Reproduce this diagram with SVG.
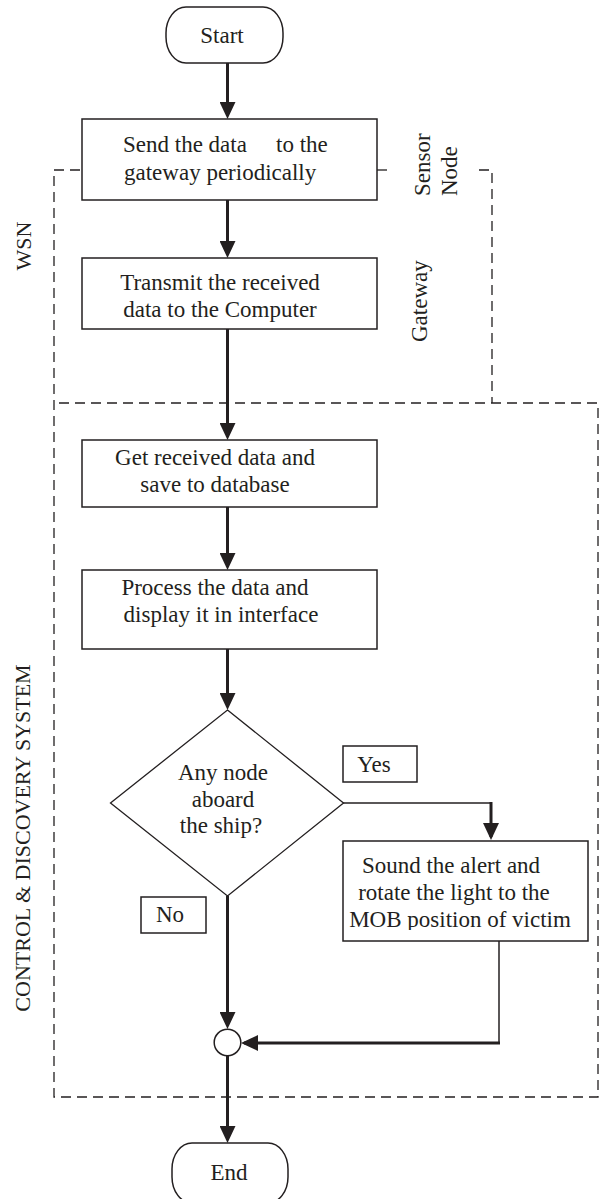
<svg xmlns="http://www.w3.org/2000/svg" width="600" height="1199" viewBox="0 0 600 1199">
<style>
.t{font-family:"Liberation Serif","Times New Roman",serif;font-size:23px;fill:#231f20}
.m{text-anchor:middle}
.lbl{font-family:"Liberation Serif","Times New Roman",serif;font-size:22px;fill:#231f20}
.box{fill:#fff;stroke:#231f20;stroke-width:1.5}
.dash{fill:none;stroke:#231f20;stroke-width:1.3;stroke-dasharray:10 6}
.c{fill:none;stroke:#231f20;stroke-width:3}
.thin{fill:none;stroke:#231f20;stroke-width:1.5}
</style>
<defs>
<marker id="ah" markerUnits="userSpaceOnUse" markerWidth="17" markerHeight="16" refX="14" refY="8" orient="auto">
<path d="M0,0 L17,8 L0,16 z" fill="#231f20"/>
</marker>
<clipPath id="clip5"><rect x="343" y="841" width="245" height="89"/></clipPath>
</defs>
<rect width="600" height="1199" fill="#fff"/>
<g id="regions">
<path class="dash" d="M80,170 H54 V1097 H598 V403 H54"/>
<path class="dash" d="M377,170 H388"/>
<path class="dash" d="M479,170 H492 V403"/>
<text class="lbl" transform="translate(31,246) rotate(-90)" text-anchor="middle">WSN</text>
<text class="lbl" transform="translate(29.5,838) rotate(-90)" text-anchor="middle">CONTROL &amp; DISCOVERY SYSTEM</text>
<text class="t" transform="translate(430,196) rotate(-90)">Sensor</text>
<text class="t" transform="translate(457,196) rotate(-90)">Node</text>
<text class="t" transform="translate(427,342) rotate(-90)">Gateway</text>
</g>
<g id="connectors">
<path class="c" d="M227.5,63 V116" marker-end="url(#ah)"/>
<path class="c" d="M227.5,200 V255" marker-end="url(#ah)"/>
<path class="c" d="M227.5,329 V437" marker-end="url(#ah)"/>
<path class="c" d="M227.5,507 V567" marker-end="url(#ah)"/>
<path class="c" d="M227.5,649 V707" marker-end="url(#ah)"/>
<path class="thin" d="M343,803 H491"/>
<path class="c" d="M491,802 V837" marker-end="url(#ah)"/>
<path class="c" d="M227.5,896 V1026" marker-end="url(#ah)"/>
<path class="thin" d="M499,941 V1043"/>
<path class="c" d="M500,1043 H244" marker-end="url(#ah)"/>
<path class="c" d="M227.5,1056 V1140" marker-end="url(#ah)"/>
</g>
<g id="start">
<rect class="box" x="166" y="7" width="117" height="56" rx="20" ry="26"/>
<text class="t m" x="222" y="43">Start</text>
</g>
<g id="send">
<rect class="box" x="82" y="119" width="295" height="81"/>
<text class="t"><tspan x="123" y="152">Send the data</tspan><tspan x="276" y="152">to the</tspan><tspan x="124" y="180">gateway periodically</tspan></text>
</g>
<g id="transmit">
<rect class="box" x="82" y="258" width="295" height="71"/>
<text class="t m"><tspan x="220" y="290">Transmit the received</tspan><tspan x="220" y="317">data to the Computer</tspan></text>
</g>
<g id="get">
<rect class="box" x="82" y="440" width="295" height="67"/>
<text class="t m"><tspan x="215" y="465">Get received data and</tspan><tspan x="215" y="492">save to database</tspan></text>
</g>
<g id="process">
<rect class="box" x="82" y="570" width="295" height="79"/>
<text class="t m"><tspan x="215" y="595">Process the data and</tspan><tspan x="221" y="622">display it in interface</tspan></text>
</g>
<g id="decision">
<polygon points="227.5,710 343.5,803 227.5,896 110.5,803" fill="#fff" stroke="#231f20" stroke-width="1.3"/>
<text class="t m"><tspan x="223" y="780">Any node</tspan><tspan x="223" y="807">aboard</tspan><tspan x="221" y="833">the ship?</tspan></text>
</g>
<g id="yes">
<rect class="box" x="343" y="746" width="74" height="36"/>
<text class="t m" x="374" y="772">Yes</text>
</g>
<g id="no">
<rect class="box" x="141" y="897" width="65" height="36"/>
<text class="t m" x="170" y="922">No</text>
</g>
<g id="alert">
<rect class="box" x="343" y="841" width="245" height="100"/>
<text class="t m" clip-path="url(#clip5)"><tspan x="451" y="873">Sound the alert and</tspan><tspan x="454" y="900">rotate the light to the</tspan><tspan x="460" y="927">MOB position of victim</tspan></text>
</g>
<g id="merge">
<circle cx="227.5" cy="1042.5" r="13.3" fill="#fff" stroke="#231f20" stroke-width="1.5"/>
</g>
<g id="end">
<rect class="box" x="172" y="1143" width="116" height="60" rx="20" ry="26"/>
<text class="t m" x="229" y="1180">End</text>
</g>
</svg>
